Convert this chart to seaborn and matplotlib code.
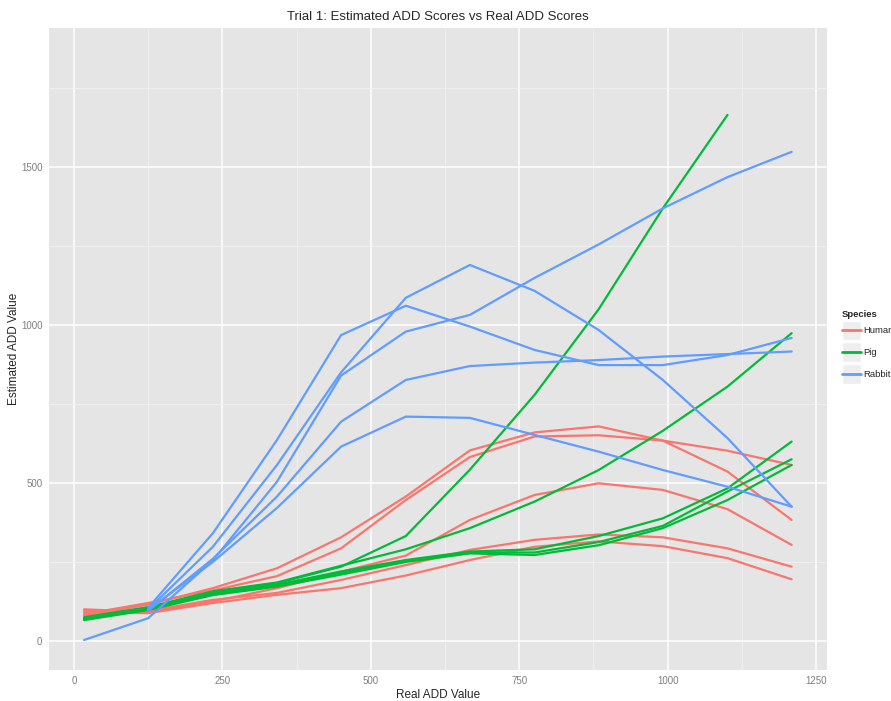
import numpy as np
import pandas as pd
import matplotlib
matplotlib.use('Agg')
import matplotlib.pyplot as plt
import seaborn as sns
from matplotlib.lines import Line2D
from matplotlib.patches import Rectangle
from matplotlib.legend_handler import HandlerLine2D

# Real ADD values (x) shared by every run
real_add = [17, 125, 234, 342, 450, 559, 667, 776, 884, 992, 1101, 1209]

# Estimated ADD values
human_1 = [80, 115, 167, 230, 328, 457, 603, 660, 679, 634, 536, 383]
human_2 = [85, 120, 160, 205, 293, 446, 582, 647, 651, 634, 602, 557]
human_3 = [100, 92, 125, 167, 219, 270, 383, 462, 499, 478, 417, 304]
human_4 = [95, 95, 130, 152, 193, 240, 288, 320, 337, 328, 293, 235]
human_5 = [90, 88, 120, 146, 167, 207, 256, 298, 315, 300, 262, 195]

pig_1 = [70, 105, 155, 183, 235, 332, 542, 779, 1050, 1369, 1665, np.nan]
pig_2 = [75, 107, 157, 185, 238, 290, 357, 441, 541, 665, 805, 974]
pig_3 = [72, 102, 150, 178, 220, 256, 283, 290, 332, 388, 483, 631]
pig_4 = [68, 100, 148, 175, 215, 254, 280, 280, 313, 364, 473, 575]
pig_5 = [66, 98, 145, 172, 210, 250, 277, 272, 303, 357, 446, 557]

rabbit_1 = [np.nan, 100, 298, 557, 850, 1086, 1190, 1108, 984, 826, 642, 425]
rabbit_2 = [3, 72, 255, 504, 840, 979, 1032, 1149, 1255, 1369, 1468, 1548]
rabbit_3 = [np.nan, 105, 341, 636, 968, 1061, 995, 921, 873, 873, 905, 959]
rabbit_4 = [np.nan, 95, 260, 457, 694, 826, 870, 881, 889, 900, 908, 916]
rabbit_5 = [np.nan, 98, 250, 421, 615, 710, 706, 652, 599, 541, 488, 425]

species = ['Human', 'Pig', 'Rabbit']
colors = ['#F8766D', '#00BA38', '#619CFF']

runs = {
    'Human': [human_1, human_2, human_3, human_4, human_5],
    'Pig': [pig_1, pig_2, pig_3, pig_4, pig_5],
    'Rabbit': [rabbit_1, rabbit_2, rabbit_3, rabbit_4, rabbit_5],
}

# long-form table for seaborn
rows = []
for sp in species:
    for i, vals in enumerate(runs[sp]):
        for xv, yv in zip(real_add, vals):
            rows.append({'Species': sp, 'Run': f'{sp}{i}', 'Real': xv, 'Estimated': yv})
df = pd.DataFrame(rows).dropna()

sns.set_style('darkgrid', rc={'axes.facecolor': '#E5E5E5', 'grid.color': 'white'})
plt.rcParams['font.family'] = ['Liberation Sans', 'DejaVu Sans']


class KeyHandler(HandlerLine2D):
    # ggplot-like legend key: grey box with the line through its middle
    def create_artists(self, legend, orig_handle, xdescent, ydescent, width, height, fontsize, trans):
        y0 = -ydescent
        box = Rectangle((-xdescent, y0), width, height, facecolor='#EEEEEE',
                        edgecolor='white', lw=1.0, transform=trans)
        arts = super().create_artists(legend, orig_handle, xdescent, ydescent,
                                      width, height, fontsize, trans)
        for a in arts:
            yd = np.asarray(a.get_ydata(), dtype=float)
            a.set_ydata(np.full_like(yd, y0 + height / 2))
        return [box] + list(arts)


fig = plt.figure(figsize=(8.91, 7.01), dpi=100)
ax = fig.add_axes([48.7 / 891, 1 - 670 / 701, (827 - 48.7) / 891, (670 - 28) / 701])

sns.lineplot(data=df, x='Real', y='Estimated', hue='Species', units='Run',
             estimator=None, palette=dict(zip(species, colors)), hue_order=species,
             lw=1.6, legend=False, ax=ax, sort=False)

# ggplot default expansion on x
xr = max(real_add) - min(real_add)
ax.set_xlim(min(real_add) - 0.05 * xr, max(real_add) + 0.05 * xr)
ax.set_ylim(-92, 1940)

ax.set_xticks([0, 250, 500, 750, 1000, 1250])
ax.set_xticks([125, 375, 625, 875, 1125], minor=True)
ax.set_yticks([0, 500, 1000, 1500])
ax.set_yticks([250, 750, 1250, 1750], minor=True)
ax.grid(which='major', color='white', lw=1.1)
ax.grid(which='minor', color='#F2F2F2', lw=0.6)
ax.set_axisbelow(True)
for s in ax.spines.values():
    s.set_visible(False)
ax.tick_params(which='major', length=3, width=0.8, color='#7F7F7F', pad=1.5,
               labelsize=7, labelcolor='#7F7F7F')
ax.tick_params(which='minor', length=0)

ax.set_title('Trial 1: Estimated ADD Scores vs Real ADD Scores', fontsize=9.5, pad=6)
ax.set_xlabel('Real ADD Value', fontsize=8.5, labelpad=2)
ax.set_ylabel('Estimated ADD Value', fontsize=8.5, labelpad=0.5)

handles = [Line2D([0], [0], color=c, lw=2) for c in colors]
leg = fig.legend(handles, species, title='Species', loc='upper left',
                 bbox_to_anchor=(835 / 891, 1 - 303 / 701), frameon=False,
                 fontsize=6.8, title_fontsize=6.8, handlelength=2.1, handleheight=2.88,
                 labelspacing=0.2, handletextpad=0.2, borderpad=0.2,
                 handler_map={Line2D: KeyHandler(marker_pad=0.15)})
leg.get_title().set_fontweight('bold')
leg._legend_box.align = 'left'

fig.savefig('out.png', dpi=100)
